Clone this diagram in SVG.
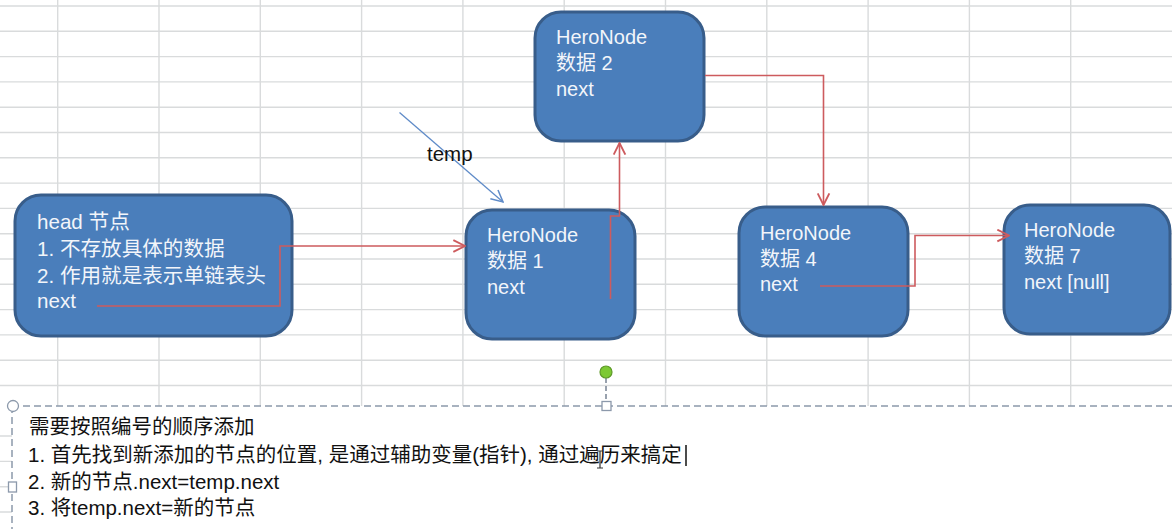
<svg xmlns="http://www.w3.org/2000/svg" width="1172" height="529" viewBox="0 0 1172 529">
<style>
.grid line{stroke:#d9dbdc;stroke-width:1.4}
.node rect{fill:#4a7ebb;stroke:#385d8a;stroke-width:3}
.node text{fill:#f2f5fa;font-family:"Liberation Sans","Noto Sans CJK SC",sans-serif;font-size:20px}
#head text{font-size:20.6px}
.red{fill:none;stroke:#cd5b5e;stroke-width:1.6}
.blue{fill:none;stroke:#5f8bc8;stroke-width:1.3}
.lbl{fill:#111;font-family:"Liberation Sans","Noto Sans CJK SC",sans-serif;font-size:20.5px}
.note{fill:#111;font-family:"Liberation Sans","Noto Sans CJK SC",sans-serif;font-size:20.5px}
.dash{fill:none;stroke:#8c99ab;stroke-width:1.5;stroke-dasharray:7 4}
.handle{fill:#fff;stroke:#8c99ab;stroke-width:1.3}
</style>
<defs>
<marker id="ar" markerUnits="userSpaceOnUse" markerWidth="14" markerHeight="14" viewBox="0 0 12 12" refX="11" refY="6" orient="auto">
<path d="M1,1 L11,6 L1,11" fill="none" stroke="#cd5b5e" stroke-width="1.6"/>
</marker>
<marker id="ab" markerUnits="userSpaceOnUse" markerWidth="14" markerHeight="14" viewBox="0 0 12 12" refX="11" refY="6" orient="auto">
<path d="M1,1 L11,6 L1,11" fill="none" stroke="#5f8bc8" stroke-width="1.3"/>
</marker>
</defs>
<rect width="1172" height="529" fill="#ffffff"/>
<g class="grid">
<line x1="0" y1="6" x2="1172" y2="6"/>
<line x1="0" y1="31.3" x2="1172" y2="31.3"/>
<line x1="0" y1="56.6" x2="1172" y2="56.6"/>
<line x1="0" y1="81.9" x2="1172" y2="81.9"/>
<line x1="0" y1="107.2" x2="1172" y2="107.2"/>
<line x1="0" y1="132.5" x2="1172" y2="132.5"/>
<line x1="0" y1="157.8" x2="1172" y2="157.8"/>
<line x1="0" y1="183.1" x2="1172" y2="183.1"/>
<line x1="0" y1="208.4" x2="1172" y2="208.4"/>
<line x1="0" y1="233.7" x2="1172" y2="233.7"/>
<line x1="0" y1="259" x2="1172" y2="259"/>
<line x1="0" y1="284.3" x2="1172" y2="284.3"/>
<line x1="0" y1="309.6" x2="1172" y2="309.6"/>
<line x1="0" y1="334.9" x2="1172" y2="334.9"/>
<line x1="0" y1="360.2" x2="1172" y2="360.2"/>
<line x1="0" y1="385.5" x2="1172" y2="385.5"/>
<line x1="0" y1="436" x2="1172" y2="436"/>
<line x1="0" y1="461.4" x2="1172" y2="461.4"/>
<line x1="0" y1="486.7" x2="1172" y2="486.7"/>
<line x1="0" y1="512" x2="1172" y2="512"/>
<line x1="57.7" y1="0" x2="57.7" y2="529"/>
<line x1="159" y1="0" x2="159" y2="529"/>
<line x1="260.3" y1="0" x2="260.3" y2="529"/>
<line x1="361.6" y1="0" x2="361.6" y2="529"/>
<line x1="462.9" y1="0" x2="462.9" y2="529"/>
<line x1="564.2" y1="0" x2="564.2" y2="529"/>
<line x1="665.5" y1="0" x2="665.5" y2="529"/>
<line x1="766.8" y1="0" x2="766.8" y2="529"/>
<line x1="868.1" y1="0" x2="868.1" y2="529"/>
<line x1="969.4" y1="0" x2="969.4" y2="529"/>
<line x1="1070.7" y1="0" x2="1070.7" y2="529"/>
</g>
<g id="head" class="node">
<rect x="15" y="195" width="277" height="141" rx="26"/>
<text x="37" y="229">head 节点</text>
<text x="37" y="256">1. 不存放具体的数据</text>
<text x="37" y="282.5">2. 作用就是表示单链表头</text>
<text x="37" y="308">next</text>
</g>
<g id="node1" class="node">
<rect x="466" y="210" width="169" height="129" rx="26"/>
<text x="487" y="242">HeroNode</text>
<text x="487" y="268">数据 1</text>
<text x="487" y="294">next</text>
</g>
<g id="node2" class="node">
<rect x="535" y="12" width="169" height="129" rx="26"/>
<text x="556" y="44">HeroNode</text>
<text x="556" y="70">数据 2</text>
<text x="556" y="96">next</text>
</g>
<g id="node4" class="node">
<rect x="739" y="207" width="169" height="129" rx="26"/>
<text x="760" y="240">HeroNode</text>
<text x="760" y="266">数据 4</text>
<text x="760" y="291">next</text>
</g>
<g id="node7" class="node">
<rect x="1004" y="205" width="166" height="129" rx="26"/>
<text x="1024" y="237">HeroNode</text>
<text x="1024" y="263">数据 7</text>
<text x="1024" y="289">next [null]</text>
</g>
<g id="connectors">
<path class="red" d="M97,306 H280 V246 H465" marker-end="url(#ar)"/>
<path class="red" d="M610.5,299 V216 H619.5 V143" marker-end="url(#ar)"/>
<path class="red" d="M705,75.5 H823.5 V205" marker-end="url(#ar)"/>
<path class="red" d="M820,286 H915 V235.5 H1009" marker-end="url(#ar)"/>
<path class="blue" d="M399.5,112.5 L503,202" marker-end="url(#ab)"/>
</g>
<text class="lbl" x="427" y="161">temp</text>
<g id="notebox">
<rect x="12" y="406" width="1160" height="123" fill="#ffffff"/>
<line class="dash" x1="12" y1="406" x2="1172" y2="406"/>
<line class="dash" x1="12" y1="406" x2="12" y2="529"/>
<line x1="606" y1="378" x2="606" y2="402" stroke="#6d7a8c" stroke-width="1.4" stroke-dasharray="5 3"/>
<circle cx="606" cy="372" r="6" fill="#7dc934" stroke="#5e9a28" stroke-width="1.2"/>
<rect class="handle" x="602" y="401.5" width="9" height="9"/>
<circle class="handle" cx="13" cy="406" r="5.5"/>
<rect class="handle" x="8.5" y="482" width="8" height="10"/>
<text class="note" x="29" y="434">需要按照编号的顺序添加</text>
<text class="note" x="28" y="461.5">1. 首先找到新添加的节点的位置, 是通过辅助变量(指针), 通过遍历来搞定</text>
<text class="note" x="28" y="488.5">2. 新的节点.next=temp.next</text>
<text class="note" x="28" y="515">3. 将temp.next=新的节点</text>
<line x1="686" y1="445" x2="686" y2="466" stroke="#111" stroke-width="1.5"/>
<path d="M597,451 H603 M600,451 V468 M597,468 H603" fill="none" stroke="#333" stroke-width="1.2"/>
</g>
</svg>
